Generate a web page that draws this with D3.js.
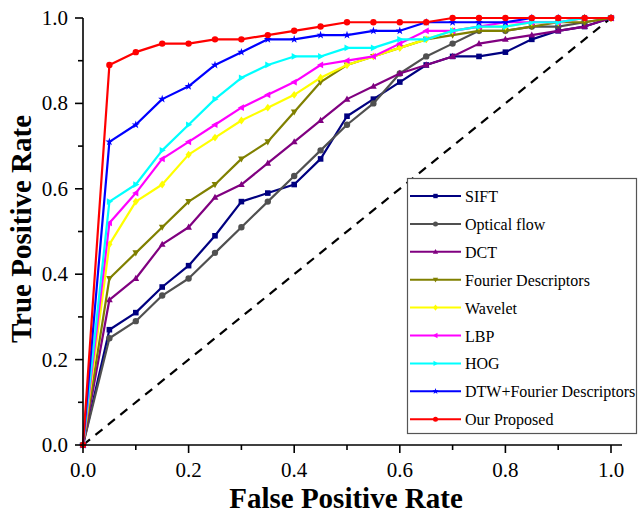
<!DOCTYPE html>
<html><head><meta charset="utf-8">
<script src="https://cdn.jsdelivr.net/npm/d3@7"></script>
<style>body{margin:0;background:#fff}svg{display:block}text{font-family:"Liberation Serif","Times New Roman",serif}</style>
</head><body>
<svg id="c" width="638" height="525"></svg>
<script>
const fpr = [0,0.05,0.1,0.15,0.2,0.25,0.3,0.35,0.4,0.45,0.5,0.55,0.6,0.65,0.7,0.75,0.8,0.85,0.9,0.95,1.0];
const sift =     [0,0.27,0.31,0.37,0.42,0.49,0.57,0.59,0.61,0.67,0.77,0.81,0.85,0.89,0.91,0.91,0.92,0.95,0.97,0.98,1.0];
const optical =  [0,0.25,0.29,0.35,0.39,0.45,0.51,0.57,0.63,0.69,0.75,0.80,0.87,0.91,0.94,0.97,0.97,0.98,0.98,0.99,1.0];
const dct =      [0,0.34,0.39,0.47,0.51,0.58,0.61,0.66,0.71,0.76,0.81,0.84,0.87,0.89,0.91,0.94,0.95,0.96,0.97,0.98,1.0];
const fourier =  [0,0.39,0.45,0.51,0.57,0.61,0.67,0.71,0.78,0.85,0.89,0.91,0.93,0.95,0.96,0.97,0.97,0.98,0.99,0.99,1.0];
const wavelet =  [0,0.47,0.57,0.61,0.68,0.72,0.76,0.79,0.82,0.86,0.89,0.91,0.93,0.95,0.97,0.98,0.98,0.99,0.99,1.0,1.0];
const lbp =      [0,0.52,0.59,0.67,0.71,0.75,0.79,0.82,0.85,0.89,0.90,0.91,0.94,0.97,0.97,0.98,0.99,0.99,0.99,1.0,1.0];
const hog =      [0,0.57,0.61,0.69,0.75,0.81,0.86,0.89,0.91,0.91,0.93,0.93,0.95,0.95,0.97,0.98,0.98,0.99,0.99,1.0,1.0];
const dtw =      [0,0.71,0.75,0.81,0.84,0.89,0.92,0.95,0.95,0.96,0.96,0.97,0.97,0.99,0.99,0.99,0.99,1.0,1.0,1.0,1.0];
const proposed = [0,0.89,0.92,0.94,0.94,0.95,0.95,0.96,0.97,0.98,0.99,0.99,0.99,0.99,1.0,1.0,1.0,1.0,1.0,1.0,1.0];
const seriesNames = ["SIFT","Optical flow","DCT","Fourier Descriptors","Wavelet","LBP","HOG","DTW+Fourier Descriptors","Our Proposed"];
const seriesValues = [sift,optical,dct,fourier,wavelet,lbp,hog,dtw,proposed];
const seriesColors = ["#000080","#505050","#800080","#808000","#FFFF00","#FF00FF","#00FFFF","#0000FF","#FF0000"];
const seriesMarkers = ["square","circle","triUp","triDown","diamond","triLeft","triRight","star","circle"];
const xTicks = [0,0.2,0.4,0.6,0.8,1.0];
const yTicks = [0,0.2,0.4,0.6,0.8,1.0];
const minorTicks = [0,0.1,0.2,0.3,0.4,0.5,0.6,0.7,0.8,0.9,1.0];

const svg = d3.select("#c");
const X0=83, X1=611, Y0=445, Y1=18;
const x = d3.scaleLinear().domain([0,1]).range([X0,X1]);
const y = d3.scaleLinear().domain([0,1]).range([Y0,Y1]);
const serif = '"Liberation Serif","Times New Roman",serif';

function markerPath(type, s){
  const r=s;
  switch(type){
    case "square": return `M${-r},${-r}H${r}V${r}H${-r}Z`;
    case "circle": return d3.symbol(d3.symbolCircle, Math.PI*r*r*1.3)();
    case "triUp": return `M0,${-r*1.3}L${r*1.2},${r*0.9}L${-r*1.2},${r*0.9}Z`;
    case "triDown": return `M0,${r*1.3}L${r*1.2},${-r*0.9}L${-r*1.2},${-r*0.9}Z`;
    case "triLeft": return `M${-r*1.3},0L${r*0.9},${-r*1.2}L${r*0.9},${r*1.2}Z`;
    case "triRight": return `M${r*1.3},0L${-r*0.9},${-r*1.2}L${-r*0.9},${r*1.2}Z`;
    case "diamond": return `M0,${-r*1.4}L${r*1.1},0L0,${r*1.4}L${-r*1.1},0Z`;
    case "star": return d3.symbol(d3.symbolStar, r*r*2.6)();
  }
}

// diagonal
svg.append("line").attr("x1",x(0)).attr("y1",y(0)).attr("x2",x(1)).attr("y2",y(1))
  .attr("stroke","#000").attr("stroke-width",2.2).attr("stroke-dasharray","9,7");

const line = d3.line().x((d,i)=>x(fpr[i])).y(d=>y(d));
seriesValues.forEach((vals,k)=>{
  const g = svg.append("g");
  g.append("path").datum(vals).attr("d",line).attr("fill","none")
    .attr("stroke",seriesColors[k]).attr("stroke-width",2.2).attr("stroke-linejoin","round");
  g.selectAll("path.m").data(vals).join("path").attr("class","m")
    .attr("d",markerPath(seriesMarkers[k],2.8))
    .attr("transform",(d,i)=>`translate(${x(fpr[i])},${y(d)})`)
    .attr("fill",seriesColors[k]);
});

// axes
const xAxis = svg.append("g").attr("transform",`translate(0,${Y0})`);
xAxis.append("line").attr("x1",X0).attr("x2",622).attr("stroke","#000").attr("stroke-width",1.6);
xAxis.selectAll("line.t").data(minorTicks).join("line").attr("class","t")
  .attr("x1",d=>x(d)).attr("x2",d=>x(d)).attr("y1",0)
  .attr("y2",(d,i)=>i%2===0?8:5).attr("stroke","#000").attr("stroke-width",1.6);
xAxis.selectAll("text").data(xTicks).join("text")
  .attr("x",d=>x(d)).attr("y",32).attr("text-anchor","middle")
  .style("font-family",serif).attr("font-size",21).text(d=>d.toFixed(1));

const yAxis = svg.append("g").attr("transform",`translate(${X0},0)`);
yAxis.append("line").attr("y1",Y0).attr("y2",Y1).attr("stroke","#000").attr("stroke-width",1.6);
yAxis.selectAll("line.t").data(minorTicks).join("line").attr("class","t")
  .attr("y1",d=>y(d)).attr("y2",d=>y(d)).attr("x1",0)
  .attr("x2",(d,i)=>i%2===0?-8:-5).attr("stroke","#000").attr("stroke-width",1.6);
yAxis.selectAll("text").data(yTicks).join("text")
  .attr("x",-15).attr("y",d=>y(d)+7).attr("text-anchor","end")
  .style("font-family",serif).attr("font-size",21).text(d=>d.toFixed(1));

svg.append("text").attr("x",346).attr("y",508).attr("text-anchor","middle")
  .style("font-family",serif).attr("font-weight","bold").attr("font-size",29)
  .text("False Positive Rate");
svg.append("text").attr("transform","translate(31,229) rotate(-90)").attr("text-anchor","middle")
  .style("font-family",serif).attr("font-weight","bold").attr("font-size",29)
  .text("True Positive Rate");

// legend
const lg = svg.append("g");
lg.append("rect").attr("x",407.5).attr("y",178.5).attr("width",229).attr("height",255)
  .attr("fill","#fff").attr("stroke","#555").attr("stroke-width",1.2);
seriesNames.forEach((n,k)=>{
  const yy = 196 + k*27.9;
  lg.append("line").attr("x1",410).attr("x2",461).attr("y1",yy).attr("y2",yy)
    .attr("stroke",seriesColors[k]).attr("stroke-width",2);
  lg.append("path").attr("d",markerPath(seriesMarkers[k],2.2))
    .attr("transform",`translate(435.5,${yy})`).attr("fill",seriesColors[k]);
  lg.append("text").attr("x",465).attr("y",yy+6)
    .style("font-family",serif).attr("font-size",16).text(n);
});
</script>
</body></html>
